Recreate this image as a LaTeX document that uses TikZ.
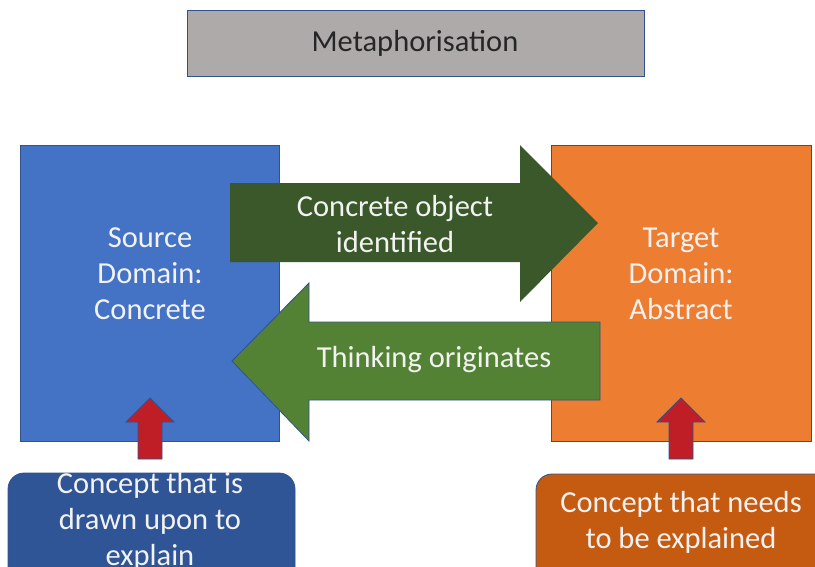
\documentclass[tikz,border=0pt]{standalone}
\usepackage{fontspec}
\setmainfont{Carlito}
\definecolor{edgeblue}{HTML}{2F528F}
\definecolor{titlegray}{HTML}{AEAAAA}
\definecolor{sourceblue}{HTML}{4472C4}
\definecolor{targetorange}{HTML}{ED7D31}
\definecolor{darkgreen}{HTML}{3A5829}
\definecolor{lightgreen}{HTML}{548235}
\definecolor{upred}{HTML}{C01E26}
\definecolor{notenavy}{HTML}{2F5597}
\definecolor{noterust}{HTML}{C55A11}
\tikzset{
  shape edge/.style={draw=edgeblue, line width=0.8pt},
  box text/.style={inner sep=0pt, align=center, text=white!95!black,
    font=\fontsize{30.5}{36}\selectfont},
}

\begin{document}
\begin{tikzpicture}[x=1pt, y=-1pt]
    \useasboundingbox (0,0) rectangle (815,566);
    \clip (0,0) rectangle (815,566);

    % Title
    \draw[shape edge, fill=titlegray] (187,10) rectangle (644,76);
    \node[box text, text=black!85] (title) at (415,43) {Metaphorisation};

    % Domains
    \draw[shape edge, fill=sourceblue] (20,145) rectangle (279,441);
    \draw[shape edge, fill=targetorange] (551,145) rectangle (811,441);
    \node[box text] (source) at (150,274) {Source\\Domain:\\Concrete};
    \node[box text] (target) at (681,274) {Target\\Domain:\\Abstract};

    % Red up arrows
    \foreach \x in {150,681} {
      \draw[shape edge, fill=upred] (\x-12,459) -- (\x-12,422) -- (\x-24,422)
        -- (\x,398) -- (\x+24,422) -- (\x+12,422) -- (\x+12,459) -- cycle;
    }

    % Block arrows
    \fill[darkgreen] (230,183) -- (520,183) -- (520,145) -- (598,223)
      -- (520,302) -- (520,262) -- (230,262) -- cycle;
    \draw[shape edge, fill=lightgreen] (600,322) -- (309,322) -- (309,283)
      -- (232,361) -- (309,441) -- (309,400) -- (600,400) -- cycle;
    \node[box text] (forward) at (395,224) {Concrete object\\identified};
    \node[box text] (backward) at (434,360) {Thinking originates};

    % Notes below
    \draw[shape edge, fill=notenavy, rounded corners=16pt] (8,473) rectangle (295,620);
    \draw[shape edge, fill=noterust, rounded corners=16pt] (536,474) rectangle (840,620);
    \node[box text] (sourcenote) at (150,521) {Concept that is\\drawn upon to\\explain};
    \node[box text] (targetnote) at (681,522) {Concept that needs\\to be explained};
\end{tikzpicture}
\end{document}
